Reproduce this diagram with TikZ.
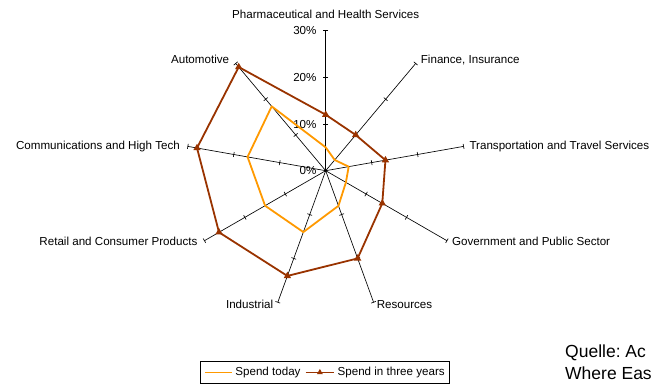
\documentclass[tikz,border=0pt]{standalone}
\usepackage{fontspec}
\setmainfont{Liberation Sans}
\usetikzlibrary{shapes.geometric,positioning,calc}
\definecolor{todaycol}{HTML}{FF9900}
\definecolor{futurecol}{HTML}{993300}
\frenchspacing

\begin{document}
\begin{tikzpicture}[x=1pt, y=1pt, >=stealth]

    % Define styles
    \tikzstyle{axis} = [draw=black, line width=0.65pt]
    \tikzstyle{lbl} = [inner sep=0pt, font=\fontsize{11.6}{13}\selectfont]
    \tikzstyle{src} = [inner sep=0pt, font=\fontsize{17.5}{21}\selectfont]
    \tikzstyle{today line} = [draw=todaycol, line width=1.8pt, line join=round]
    \tikzstyle{future line} = [draw=futurecol, line width=1.8pt, line join=round]
    \tikzstyle{marker} = [regular polygon, regular polygon sides=3, fill=futurecol, inner sep=0pt, minimum size=8.5pt]

    \useasboundingbox (-325.7,-214.3) rectangle (325.3,170.7);

    \coordinate (c) at (0,0);

    % Axes, 10% per tick
    \foreach \i/\a in {1/90,2/50,3/10,4/-30,5/-70,6/-110,7/-150,8/170,9/130} {
        \coordinate (e\i) at (\a:140);
        \draw[axis] (c) -- (e\i);
        \begin{scope}[rotate=\a]
            \foreach \t in {1,2,3}
                \draw[axis] (\t*46.667,-2.5) -- (\t*46.667,2.5);
        \end{scope}
    }
    \fill (c) circle (1.5pt);

    % Scale
    \foreach \v/\p in {0/0,1/10,2/20,3/30}
        \node[lbl, anchor=east] (p\p) at (-9,\v*46.667) {\p\%};

    % Data: angle / today / in three years
    \foreach \i/\a/\s/\f in {1/90/5/12, 2/50/3/10, 3/10/5/13, 4/-30/5/14, 5/-70/8/20,
                             6/-110/14/24, 7/-150/15/26.4, 8/170/17/28, 9/130/18/29} {
        \coordinate (s\i) at (\a:{\s*4.6667});
        \coordinate (f\i) at (\a:{\f*4.6667});
    }

    \draw[today line] (s1) -- (s2) -- (s3) -- (s4) -- (s5) -- (s6) -- (s7) -- (s8) -- (s9) -- cycle;
    \draw[future line] (f1) -- (f2) -- (f3) -- (f4) -- (f5) -- (f6) -- (f7) -- (f8) -- (f9) -- cycle;
    \foreach \i in {1,...,9}
        \node[marker] (m\i) at (f\i) {};

    % Axis labels
    \node[lbl, above=12.2pt of e1] (l1) {Pharmaceutical and Health Services};
    \node[lbl, anchor=base west] (l2) at ([xshift=5pt]e2) {Finance, Insurance};
    \node[lbl, anchor=base west] (l3) at ([shift={(5.8,-3)}]e3) {Transportation and Travel Services};
    \node[lbl, anchor=base west] (l4) at ([shift={(5,-5.3)}]e4) {Government and Public Sector};
    \node[lbl, anchor=base west] (l5) at ([shift={(3,-6.7)}]e5) {Resources};
    \node[lbl, anchor=base east] (l6) at ([shift={(-4.5,-6.7)}]e6) {Industrial};
    \node[lbl, anchor=base east] (l7) at ([shift={(-6.8,-5.3)}]e7) {Retail and Consumer Products};
    \node[lbl, anchor=base east] (l8) at ([shift={(-7.8,-3)}]e8) {Communications and High Tech};
    \node[lbl, anchor=base east] (l9) at ([shift={(-6.4,0)}]e9) {Automotive};

    % Legend
    \draw[line width=0.65pt] (-125.7,-191) rectangle (123.3,-212.6);
    \coordinate (k1) at (-120.7,-201.8);
    \coordinate[right=26.7pt of k1] (k2);
    \draw[today line, line width=1.5pt] (k1) -- (k2);
    \node[lbl, right=3.5pt of k2] (t1) {Spend today};
    \coordinate[right=5pt of t1] (k3);
    \coordinate[right=28.3pt of k3] (k4);
    \draw[future line, line width=1.5pt] (k3) -- (k4);
    \node[marker, minimum size=7pt] (km) at ($(k3)!0.5!(k4)$) {};
    \node[lbl, right=3.4pt of k4] (t2) {Spend in three years};

    % Source
    \node[src, anchor=base west] (q1) at (239.3,-187) {Quelle: Ac};
    \node[src, anchor=base west] (q2) at (239.3,-208.6) {Where Eas};

\end{tikzpicture}
\end{document}
